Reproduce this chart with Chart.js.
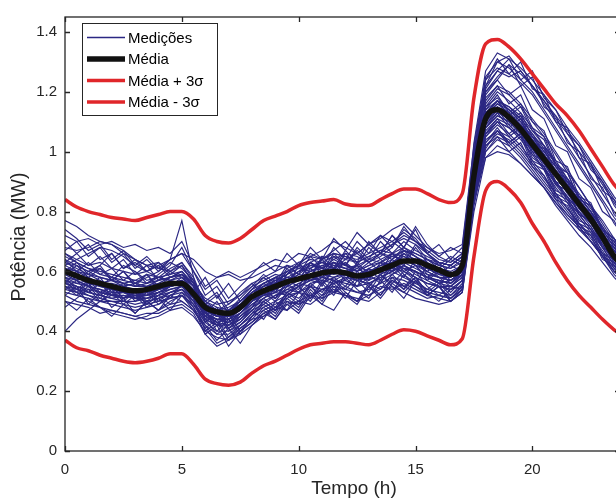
<!DOCTYPE html>
<html lang="pt">
<head>
  <meta charset="UTF-8">
  <title>Potência - Medições</title>
  <script src="https://cdn.jsdelivr.net/npm/chart.js"></script>
  <style>
    html, body { margin: 0; padding: 0; background: #fff; overflow: hidden; }
    #wrap { width: 616px; height: 503px; overflow: hidden; position: relative; }
    canvas { position: absolute; left: 0; top: 0; }
  </style>
</head>
<body>
<div id="wrap"><canvas id="chart" width="640" height="520"></canvas></div>

<script>
  // tempo (h), passo de 30 min
  const hours = [0,0.5,1,1.5,2,2.5,3,3.5,4,4.5,5,5.5,6,6.5,7,7.5,8,8.5,9,9.5,10,10.5,11,11.5,12,
    12.5,13,13.5,14,14.5,15,15.5,16,16.5,17,17.5,18,18.5,19,19.5,20,20.5,21,21.5,22,22.5,23,23.5,24];

  const xTicks = [0, 5, 10, 15, 20];
  const yTicks = [0, 0.2, 0.4, 0.6, 0.8, 1, 1.2, 1.4];

  const media = [0.60,0.585,0.57,0.56,0.55,0.54,0.535,0.54,0.55,0.56,0.56,
    0.525,0.48,0.465,0.46,0.48,
    0.515,0.535,0.55,0.565,0.575,0.585,0.595,0.60,0.595,0.585,0.59,0.605,0.62,0.635,0.635,0.62,0.605,0.59,0.62,
    0.92,1.11,1.14,1.115,1.075,1.025,0.975,0.925,0.875,0.825,0.775,0.715,0.65,0.61];

  const mediaMais = [0.84,0.815,0.80,0.79,0.78,0.775,0.77,0.78,0.79,0.80,0.80,
    0.775,0.72,0.70,0.695,0.71,
    0.74,0.77,0.785,0.80,0.82,0.83,0.835,0.84,0.825,0.82,0.82,0.84,0.86,0.875,0.875,0.86,0.84,0.83,0.86,
    1.18,1.36,1.375,1.35,1.31,1.26,1.21,1.16,1.12,1.07,1.01,0.95,0.89,0.85];

  const mediaMenos = [0.37,0.345,0.335,0.32,0.31,0.30,0.295,0.30,0.31,0.325,0.325,
    0.29,0.24,0.225,0.22,0.23,
    0.26,0.285,0.30,0.32,0.34,0.355,0.36,0.365,0.365,0.36,0.355,0.37,0.39,0.405,0.40,0.385,0.37,0.355,0.375,
    0.65,0.87,0.90,0.875,0.83,0.76,0.70,0.63,0.57,0.52,0.48,0.44,0.405,0.38];

  const medicoes = [
    [0.77,0.75,0.72,0.70,0.69,0.66,0.64,0.62,0.63,0.60,0.62, 0.56,0.50,0.47,0.48,0.50,
     0.53,0.55,0.58,0.57,0.60,0.63,0.61,0.64,0.62,0.60,0.63,0.66,0.64,0.68,0.65,0.63,0.61,0.60,0.62,
     0.95,1.15,1.18,1.14,1.10,1.04,0.99,0.93,0.88,0.83,0.78,0.72,0.66,0.62],
    [0.40,0.44,0.47,0.50,0.52,0.51,0.53,0.52,0.54,0.55,0.57, 0.52,0.45,0.43,0.44,0.47,
     0.50,0.52,0.51,0.54,0.56,0.55,0.58,0.57,0.56,0.55,0.58,0.60,0.59,0.62,0.60,0.58,0.56,0.57,0.59,
     0.88,1.06,1.10,1.08,1.05,1.00,0.94,0.90,0.85,0.80,0.76,0.70,0.64,0.60],
    [0.72,0.70,0.71,0.69,0.70,0.68,0.69,0.67,0.68,0.66,0.70, 0.62,0.55,0.58,0.60,0.58,
     0.60,0.62,0.64,0.63,0.66,0.65,0.67,0.70,0.68,0.66,0.69,0.72,0.70,0.73,0.70,0.68,0.66,0.67,0.69,
     1.02,1.25,1.30,1.28,1.24,1.20,1.14,1.08,1.02,0.96,0.90,0.84,0.78,0.73],
    [0.58,0.57,0.58,0.56,0.57,0.55,0.56,0.58,0.60,0.64,0.77, 0.58,0.46,0.44,0.43,0.46,
     0.49,0.51,0.54,0.53,0.56,0.58,0.57,0.60,0.59,0.57,0.59,0.62,0.63,0.61,0.60,0.58,0.57,0.56,0.60,
     0.90,1.08,1.12,1.10,1.06,1.01,0.96,0.90,0.84,0.79,0.74,0.69,0.63,0.59],
    [0.52,0.50,0.49,0.48,0.47,0.46,0.45,0.44,0.45,0.47,0.48, 0.45,0.40,0.38,0.37,0.40,
     0.43,0.46,0.48,0.47,0.50,0.52,0.51,0.53,0.52,0.50,0.52,0.55,0.54,0.56,0.54,0.52,0.51,0.50,0.53,
     0.80,0.98,1.02,1.00,0.96,0.92,0.88,0.83,0.78,0.74,0.70,0.65,0.60,0.56],
    [0.63,0.62,0.60,0.61,0.58,0.57,0.56,0.55,0.57,0.58,0.59, 0.55,0.48,0.46,0.45,0.48,
     0.52,0.55,0.56,0.58,0.57,0.60,0.62,0.61,0.63,0.60,0.62,0.64,0.66,0.65,0.63,0.64,0.62,0.61,0.64,
     0.98,1.22,1.30,1.32,1.27,1.22,1.17,1.11,1.06,1.00,0.95,0.89,0.83,0.77],
    [0.56,0.55,0.53,0.52,0.51,0.50,0.49,0.50,0.51,0.52,0.53, 0.50,0.44,0.42,0.41,0.43,
     0.47,0.49,0.52,0.54,0.53,0.56,0.57,0.56,0.58,0.57,0.56,0.58,0.60,0.62,0.59,0.57,0.55,0.54,0.57,
     0.86,1.05,1.09,1.06,1.02,0.97,0.92,0.86,0.81,0.76,0.71,0.66,0.60,0.57],
    [0.62,0.64,0.66,0.68,0.67,0.65,0.62,0.60,0.58,0.57,0.56, 0.53,0.47,0.45,0.47,0.50,
     0.54,0.56,0.58,0.60,0.62,0.61,0.64,0.66,0.65,0.63,0.65,0.67,0.69,0.72,0.70,0.67,0.64,0.63,0.66,
     0.96,1.15,1.20,1.17,1.13,1.08,1.02,0.97,0.91,0.85,0.80,0.74,0.68,0.64],
    [0.55,0.53,0.50,0.48,0.46,0.45,0.44,0.45,0.47,0.49,0.50, 0.47,0.41,0.36,0.38,0.41,
     0.44,0.45,0.48,0.50,0.49,0.51,0.54,0.53,0.55,0.53,0.52,0.54,0.57,0.55,0.53,0.51,0.52,0.51,0.54,
     0.84,1.02,1.06,1.04,1.00,0.95,0.90,0.85,0.80,0.75,0.70,0.65,0.59,0.55],
    [0.66,0.64,0.62,0.63,0.61,0.60,0.59,0.60,0.62,0.64,0.66, 0.64,0.60,0.58,0.59,0.57,
     0.58,0.60,0.62,0.61,0.63,0.65,0.64,0.66,0.65,0.64,0.66,0.68,0.70,0.67,0.66,0.64,0.63,0.62,0.65,
     0.97,1.18,1.22,1.20,1.16,1.11,1.06,1.00,0.94,0.88,0.82,0.76,0.70,0.65],
    [0.60,0.58,0.56,0.55,0.54,0.53,0.53,0.54,0.55,0.56,0.55, 0.52,0.47,0.45,0.44,0.46,
     0.50,0.53,0.55,0.57,0.59,0.58,0.60,0.62,0.61,0.59,0.58,0.60,0.63,0.66,0.64,0.61,0.59,0.58,0.61,
     0.92,1.10,1.14,1.12,1.09,1.04,0.98,0.93,0.88,0.83,0.77,0.71,0.65,0.61],
    [0.57,0.56,0.55,0.54,0.52,0.53,0.51,0.52,0.54,0.55,0.56, 0.53,0.46,0.43,0.42,0.45,
     0.49,0.52,0.54,0.56,0.58,0.57,0.59,0.61,0.60,0.62,0.60,0.62,0.64,0.67,0.65,0.62,0.60,0.59,0.62,
     1.00,1.24,1.28,1.26,1.23,1.19,1.13,1.07,1.01,0.95,0.89,0.83,0.76,0.71],
    [0.53,0.52,0.51,0.50,0.50,0.49,0.48,0.49,0.50,0.51,0.52, 0.49,0.43,0.40,0.40,0.42,
     0.46,0.48,0.50,0.52,0.53,0.55,0.54,0.56,0.57,0.55,0.56,0.58,0.60,0.58,0.56,0.54,0.53,0.52,0.55,
     0.85,1.04,1.07,1.05,1.01,0.96,0.91,0.86,0.81,0.76,0.72,0.67,0.61,0.57],
    [0.68,0.67,0.68,0.70,0.69,0.67,0.64,0.62,0.61,0.60,0.58, 0.54,0.49,0.47,0.46,0.49,
     0.53,0.55,0.57,0.56,0.59,0.62,0.63,0.61,0.64,0.66,0.63,0.65,0.68,0.74,0.71,0.66,0.63,0.62,0.65,
     0.95,1.13,1.17,1.15,1.12,1.07,1.02,0.96,0.91,0.86,0.81,0.75,0.69,0.65],
    [0.59,0.57,0.55,0.53,0.52,0.52,0.51,0.51,0.52,0.54,0.55, 0.51,0.45,0.44,0.45,0.47,
     0.51,0.54,0.55,0.57,0.58,0.60,0.61,0.60,0.59,0.58,0.60,0.61,0.60,0.63,0.61,0.59,0.58,0.57,0.60,
     0.90,1.09,1.13,1.11,1.07,1.02,0.97,0.92,0.86,0.81,0.76,0.70,0.64,0.60],
    [0.61,0.60,0.58,0.56,0.55,0.54,0.54,0.53,0.54,0.56,0.57, 0.54,0.48,0.46,0.45,0.47,
     0.52,0.54,0.57,0.59,0.61,0.60,0.62,0.63,0.61,0.60,0.62,0.63,0.65,0.64,0.62,0.61,0.59,0.58,0.62,
     0.98,1.20,1.25,1.29,1.26,1.22,1.17,1.12,1.07,1.02,0.96,0.90,0.84,0.79],
    [0.58,0.56,0.57,0.55,0.58,0.62,0.60,0.57,0.58,0.61,0.63, 0.57,0.44,0.39,0.42,0.44,
     0.48,0.53,0.50,0.55,0.54,0.59,0.56,0.60,0.63,0.58,0.61,0.59,0.64,0.60,0.62,0.57,0.60,0.56,0.59,
     0.89,1.07,1.11,1.09,1.05,1.01,0.95,0.89,0.84,0.79,0.74,0.68,0.62,0.58],
    [0.64,0.62,0.60,0.58,0.57,0.56,0.57,0.59,0.58,0.57,0.58, 0.55,0.49,0.47,0.49,0.52,
     0.55,0.57,0.59,0.58,0.60,0.62,0.61,0.63,0.62,0.61,0.64,0.63,0.66,0.68,0.66,0.64,0.62,0.61,0.63,
     0.94,1.14,1.17,1.15,1.11,1.06,1.00,0.95,0.89,0.84,0.79,0.73,0.67,0.63],
    [0.50,0.49,0.48,0.46,0.47,0.46,0.45,0.46,0.46,0.48,0.49, 0.46,0.39,0.35,0.37,0.39,
     0.42,0.45,0.47,0.49,0.50,0.49,0.52,0.54,0.52,0.51,0.50,0.53,0.55,0.53,0.51,0.50,0.49,0.50,0.53,
     0.82,1.00,1.04,1.02,0.98,0.93,0.88,0.82,0.77,0.72,0.68,0.63,0.58,0.54],
    [0.62,0.60,0.59,0.57,0.55,0.53,0.52,0.51,0.53,0.55,0.56, 0.52,0.46,0.44,0.43,0.46,
     0.50,0.52,0.53,0.55,0.57,0.59,0.58,0.57,0.59,0.61,0.59,0.60,0.62,0.61,0.60,0.58,0.57,0.56,0.59,
     0.91,1.11,1.15,1.13,1.09,1.05,0.99,0.94,0.89,0.84,0.79,0.73,0.67,0.62],
    [0.65,0.63,0.61,0.60,0.59,0.58,0.57,0.56,0.57,0.58,0.59, 0.55,0.49,0.47,0.46,0.49,
     0.53,0.56,0.58,0.60,0.62,0.64,0.63,0.65,0.64,0.63,0.65,0.67,0.66,0.70,0.67,0.65,0.63,0.62,0.65,
     1.03,1.27,1.33,1.31,1.28,1.24,1.19,1.14,1.08,1.03,0.97,0.91,0.85,0.80],
    [0.55,0.54,0.52,0.51,0.50,0.50,0.50,0.51,0.52,0.53,0.54, 0.50,0.44,0.42,0.43,0.45,
     0.48,0.50,0.52,0.53,0.55,0.57,0.56,0.58,0.59,0.57,0.58,0.57,0.59,0.61,0.58,0.56,0.55,0.54,0.57,
     0.87,1.06,1.10,1.08,1.04,0.99,0.94,0.88,0.83,0.78,0.73,0.68,0.62,0.58],
    [0.57,0.55,0.54,0.53,0.52,0.51,0.52,0.53,0.55,0.56,0.57, 0.53,0.47,0.45,0.46,0.48,
     0.51,0.55,0.57,0.59,0.62,0.66,0.64,0.67,0.70,0.66,0.69,0.71,0.74,0.76,0.72,0.68,0.65,0.63,0.66,
     0.95,1.13,1.17,1.14,1.10,1.05,1.00,0.95,0.90,0.85,0.80,0.75,0.69,0.64],
    [0.61,0.59,0.57,0.56,0.56,0.55,0.54,0.53,0.54,0.55,0.56, 0.53,0.48,0.46,0.47,0.49,
     0.52,0.54,0.56,0.58,0.57,0.59,0.60,0.59,0.60,0.59,0.61,0.63,0.62,0.64,0.62,0.60,0.58,0.57,0.60,
     0.92,1.12,1.16,1.13,1.09,1.04,0.99,0.93,0.87,0.82,0.77,0.71,0.65,0.61],
    [0.59,0.57,0.55,0.54,0.53,0.53,0.52,0.52,0.53,0.55,0.56, 0.52,0.46,0.44,0.44,0.46,
     0.50,0.53,0.55,0.57,0.58,0.57,0.59,0.60,0.59,0.58,0.60,0.62,0.63,0.65,0.63,0.60,0.58,0.58,0.61,
     0.99,1.21,1.27,1.25,1.27,1.22,1.16,1.10,1.04,0.98,0.92,0.86,0.80,0.74],
    [0.54,0.53,0.52,0.50,0.49,0.48,0.47,0.48,0.49,0.51,0.52, 0.48,0.42,0.39,0.39,0.42,
     0.45,0.47,0.49,0.51,0.53,0.52,0.54,0.55,0.54,0.53,0.54,0.56,0.58,0.57,0.55,0.53,0.52,0.51,0.54,
     0.84,1.02,1.05,1.03,0.99,0.94,0.89,0.84,0.79,0.75,0.70,0.65,0.60,0.56],
    [0.60,0.58,0.57,0.55,0.54,0.54,0.53,0.52,0.53,0.54,0.55, 0.52,0.47,0.45,0.45,0.47,
     0.51,0.53,0.54,0.56,0.58,0.57,0.59,0.58,0.60,0.58,0.57,0.59,0.61,0.60,0.58,0.56,0.55,0.55,0.58,
     0.84,0.98,1.00,0.99,0.96,0.92,0.88,0.83,0.79,0.75,0.70,0.66,0.61,0.57],
    [0.63,0.61,0.59,0.58,0.57,0.56,0.55,0.55,0.56,0.58,0.59, 0.56,0.50,0.48,0.47,0.50,
     0.53,0.56,0.58,0.57,0.60,0.61,0.63,0.62,0.61,0.62,0.64,0.66,0.65,0.67,0.65,0.62,0.60,0.59,0.62,
     0.93,1.12,1.16,1.14,1.11,1.06,1.01,0.96,0.90,0.85,0.80,0.74,0.68,0.64],
    [0.56,0.54,0.53,0.52,0.51,0.52,0.51,0.50,0.51,0.53,0.54, 0.51,0.45,0.42,0.42,0.44,
     0.48,0.51,0.53,0.52,0.55,0.57,0.58,0.60,0.59,0.57,0.59,0.61,0.60,0.62,0.60,0.58,0.56,0.55,0.58,
     0.89,1.08,1.12,1.10,1.06,1.01,0.96,0.90,0.85,0.80,0.75,0.69,0.63,0.59],
    [0.66,0.63,0.61,0.59,0.58,0.56,0.55,0.56,0.58,0.59,0.60, 0.56,0.51,0.49,0.50,0.52,
     0.56,0.58,0.60,0.62,0.61,0.63,0.65,0.64,0.66,0.65,0.63,0.66,0.69,0.71,0.69,0.66,0.63,0.62,0.65,
     0.96,1.16,1.21,1.19,1.15,1.10,1.05,0.99,0.93,0.88,0.82,0.77,0.71,0.66],
    [0.70,0.66,0.69,0.64,0.66,0.61,0.63,0.60,0.62,0.58,0.60, 0.55,0.43,0.47,0.41,0.45,
     0.48,0.54,0.51,0.57,0.55,0.61,0.58,0.63,0.59,0.62,0.57,0.63,0.60,0.66,0.62,0.58,0.61,0.57,0.60,
     0.93,1.17,1.22,1.16,1.19,1.10,1.07,0.97,0.95,0.85,0.83,0.74,0.71,0.64],
    [0.56,0.60,0.55,0.58,0.53,0.56,0.51,0.54,0.50,0.53,0.55, 0.50,0.47,0.40,0.44,0.39,
     0.45,0.50,0.47,0.53,0.50,0.56,0.53,0.58,0.55,0.60,0.56,0.54,0.59,0.55,0.58,0.53,0.56,0.52,0.56,
     0.88,1.08,1.13,1.08,1.11,1.02,0.99,0.90,0.88,0.79,0.77,0.68,0.66,0.59],
    [0.64,0.60,0.63,0.59,0.61,0.57,0.60,0.56,0.59,0.62,0.68, 0.60,0.52,0.55,0.49,0.53,
     0.56,0.52,0.58,0.55,0.62,0.58,0.65,0.61,0.67,0.63,0.70,0.66,0.72,0.68,0.74,0.66,0.62,0.65,0.63,
     0.96,1.20,1.24,1.29,1.22,1.25,1.15,1.12,1.03,1.00,0.91,0.88,0.79,0.75],
    [0.52,0.55,0.49,0.53,0.48,0.51,0.46,0.50,0.47,0.52,0.50, 0.47,0.42,0.37,0.41,0.36,
     0.42,0.46,0.44,0.49,0.46,0.52,0.49,0.47,0.53,0.50,0.55,0.51,0.56,0.53,0.57,0.52,0.55,0.50,0.54,
     0.85,1.01,1.07,1.02,1.05,0.96,0.94,0.85,0.83,0.75,0.73,0.65,0.63,0.56],
    [0.61,0.57,0.60,0.62,0.57,0.60,0.55,0.59,0.54,0.57,0.59, 0.53,0.58,0.51,0.56,0.50,
     0.54,0.58,0.55,0.61,0.57,0.63,0.59,0.65,0.62,0.67,0.63,0.60,0.66,0.62,0.68,0.63,0.59,0.62,0.60,
     0.92,1.14,1.19,1.13,1.16,1.08,1.05,0.96,0.93,0.84,0.82,0.73,0.70,0.63],
    [0.48,0.51,0.54,0.50,0.53,0.49,0.52,0.48,0.51,0.47,0.52, 0.49,0.44,0.47,0.41,0.44,
     0.47,0.51,0.48,0.53,0.51,0.55,0.52,0.57,0.54,0.58,0.55,0.59,0.56,0.60,0.57,0.54,0.57,0.53,0.57,
     0.87,1.05,1.10,1.05,1.08,0.99,0.97,0.89,0.87,0.79,0.77,0.70,0.67,0.61],
    [0.67,0.70,0.65,0.68,0.63,0.66,0.61,0.64,0.60,0.63,0.61, 0.57,0.50,0.53,0.47,0.51,
     0.55,0.59,0.56,0.62,0.59,0.65,0.61,0.68,0.64,0.70,0.66,0.72,0.68,0.75,0.70,0.66,0.69,0.64,0.68,
     1.00,1.24,1.31,1.26,1.30,1.21,1.19,1.10,1.08,0.98,0.96,0.87,0.84,0.76],
    [0.58,0.54,0.57,0.53,0.55,0.51,0.54,0.50,0.53,0.51,0.56, 0.51,0.40,0.43,0.37,0.41,
     0.44,0.48,0.45,0.51,0.48,0.54,0.50,0.56,0.52,0.49,0.55,0.52,0.57,0.54,0.58,0.53,0.50,0.54,0.55,
     0.86,1.03,1.08,1.03,1.06,0.97,0.95,0.86,0.84,0.76,0.74,0.66,0.64,0.57],
    [0.60,0.63,0.59,0.62,0.66,0.61,0.64,0.60,0.63,0.59,0.62, 0.56,0.46,0.50,0.44,0.48,
     0.52,0.56,0.53,0.59,0.63,0.58,0.64,0.60,0.66,0.62,0.68,0.64,0.61,0.67,0.63,0.60,0.63,0.59,0.62,
     0.94,1.12,1.17,1.12,1.15,1.07,1.04,0.95,0.93,0.84,0.82,0.74,0.71,0.64],
    [0.54,0.57,0.53,0.56,0.52,0.55,0.50,0.53,0.49,0.52,0.54, 0.49,0.43,0.46,0.40,0.43,
     0.47,0.44,0.50,0.47,0.53,0.50,0.56,0.52,0.58,0.54,0.51,0.57,0.53,0.59,0.55,0.52,0.55,0.51,0.55,
     0.87,1.06,1.11,1.06,1.09,1.00,0.98,0.89,0.87,0.79,0.77,0.69,0.66,0.60],
    [0.63,0.66,0.62,0.65,0.61,0.64,0.59,0.62,0.57,0.60,0.63, 0.58,0.49,0.52,0.46,0.50,
     0.54,0.58,0.55,0.60,0.57,0.63,0.60,0.66,0.62,0.68,0.64,0.70,0.66,0.63,0.69,0.64,0.61,0.64,0.62,
     0.98,1.22,1.27,1.31,1.24,1.27,1.18,1.14,1.06,1.02,0.94,0.90,0.82,0.77],
    [0.57,0.53,0.56,0.52,0.55,0.51,0.53,0.49,0.52,0.55,0.58, 0.53,0.45,0.48,0.42,0.46,
     0.50,0.54,0.51,0.56,0.53,0.59,0.55,0.61,0.57,0.63,0.59,0.56,0.62,0.58,0.64,0.59,0.56,0.59,0.58,
     0.90,1.10,1.15,1.10,1.13,1.05,1.02,0.93,0.91,0.82,0.80,0.72,0.69,0.62],
    [0.50,0.47,0.51,0.48,0.45,0.49,0.46,0.50,0.47,0.50,0.52, 0.47,0.41,0.44,0.38,0.42,
     0.46,0.50,0.47,0.52,0.49,0.55,0.51,0.57,0.53,0.50,0.56,0.52,0.58,0.54,0.60,0.55,0.52,0.55,0.54,
     0.85,1.03,1.07,1.03,1.06,0.98,0.95,0.87,0.85,0.77,0.75,0.68,0.65,0.58],
    [0.74,0.71,0.67,0.69,0.64,0.67,0.62,0.65,0.61,0.64,0.66, 0.60,0.54,0.57,0.51,0.55,
     0.59,0.63,0.60,0.66,0.62,0.68,0.64,0.71,0.67,0.73,0.69,0.66,0.72,0.68,0.75,0.69,0.65,0.68,0.66,
     0.99,1.19,1.24,1.19,1.22,1.14,1.11,1.02,1.00,0.91,0.88,0.80,0.77,0.69],
    [0.59,0.62,0.58,0.61,0.57,0.60,0.56,0.59,0.55,0.58,0.60, 0.55,0.47,0.42,0.46,0.40,
     0.45,0.49,0.46,0.52,0.55,0.51,0.57,0.53,0.59,0.55,0.61,0.57,0.63,0.59,0.56,0.62,0.58,0.55,0.59,
     0.91,1.09,1.14,1.09,1.12,1.03,1.01,0.92,0.90,0.81,0.79,0.71,0.68,0.61],
    [0.55,0.52,0.55,0.51,0.54,0.50,0.53,0.49,0.52,0.49,0.53, 0.48,0.39,0.42,0.35,0.40,
     0.43,0.47,0.44,0.50,0.47,0.53,0.49,0.55,0.51,0.57,0.53,0.59,0.55,0.51,0.57,0.52,0.55,0.50,0.53,
     0.83,1.00,1.05,1.00,1.03,0.95,0.92,0.84,0.82,0.74,0.72,0.64,0.62,0.55]
  ];

  const AZUL = '#2b2783';
  const VERMELHO = '#e0262a';
  const PRETO = '#111111';
  const TEXTO = '#262626';
  const FONTE = '"Liberation Sans", Arial, sans-serif';

  const pts = arr => arr.map((v, i) => ({ x: hours[i], y: v }));

  // Média desenhada por cima (índice 0), depois os limites, depois as medições
  const datasets = [
    { label: 'Média', data: pts(media), borderColor: PRETO, borderWidth: 5.5, cubicInterpolationMode: 'monotone' },
    { label: 'Média + 3σ', data: pts(mediaMais), borderColor: VERMELHO, borderWidth: 3.5, cubicInterpolationMode: 'monotone' },
    { label: 'Média - 3σ', data: pts(mediaMenos), borderColor: VERMELHO, borderWidth: 3.5, cubicInterpolationMode: 'monotone' }
  ];
  medicoes.forEach(s => datasets.push({ label: 'Medições', data: pts(s), borderColor: AZUL, borderWidth: 1.15 }));

  const legendItems = [
    { text: 'Medições', color: AZUL, width: 1.5 },
    { text: 'Média', color: PRETO, width: 5.5 },
    { text: 'Média + 3σ', color: VERMELHO, width: 3.5 },
    { text: 'Média - 3σ', color: VERMELHO, width: 3.5 }
  ];

  // caixa dos eixos com marcas para dentro (estilo MATLAB), títulos dos eixos e legenda
  const boxPlugin = {
    id: 'box',
    afterDraw(chart) {
      const { ctx, chartArea: { left, right, top, bottom }, scales: { x, y } } = chart;
      ctx.save();
      ctx.strokeStyle = TEXTO;
      ctx.lineWidth = 1.3;
      ctx.strokeRect(left, top, right - left, bottom - top);
      ctx.beginPath();
      xTicks.forEach(v => {
        const px = Math.round(x.getPixelForValue(v)) + 0.5;
        ctx.moveTo(px, bottom); ctx.lineTo(px, bottom - 5);
        ctx.moveTo(px, top); ctx.lineTo(px, top + 5);
      });
      yTicks.forEach(v => {
        const py = Math.round(y.getPixelForValue(v)) + 0.5;
        ctx.moveTo(left, py); ctx.lineTo(left + 5, py);
        ctx.moveTo(right, py); ctx.lineTo(right - 5, py);
      });
      ctx.stroke();

      // títulos dos eixos
      ctx.fillStyle = TEXTO;
      ctx.font = '19px ' + FONTE;
      ctx.textAlign = 'center';
      ctx.textBaseline = 'alphabetic';
      ctx.fillText('Tempo (h)', 354, 494);
      ctx.save();
      ctx.translate(25, 237);
      ctx.rotate(-Math.PI / 2);
      ctx.font = '19.5px ' + FONTE;
      ctx.fillText('Potência (MW)', 0, 0);
      ctx.restore();

      // legenda
      const bx = 82.5, by = 23.5, bw = 135, bh = 92;
      ctx.fillStyle = '#fff';
      ctx.fillRect(bx, by, bw, bh);
      ctx.strokeStyle = TEXTO;
      ctx.lineWidth = 1;
      ctx.strokeRect(bx, by, bw, bh);
      ctx.font = '15px ' + FONTE;
      ctx.textAlign = 'left';
      ctx.textBaseline = 'middle';
      ctx.fillStyle = '#000';
      legendItems.forEach((it, i) => {
        const ly = 37.5 + i * 21.5;
        ctx.beginPath();
        ctx.strokeStyle = it.color;
        ctx.lineWidth = it.width;
        ctx.moveTo(87, ly); ctx.lineTo(125, ly);
        ctx.stroke();
        ctx.fillText(it.text, 128, ly + 1);
      });
      ctx.restore();
    }
  };

  new Chart(document.getElementById('chart'), {
    type: 'line',
    data: { datasets },
    options: {
      responsive: false,
      animation: false,
      devicePixelRatio: 1,
      layout: { padding: { top: 11, right: 20, left: 0, bottom: 0 } },
      elements: { point: { radius: 0 }, line: { tension: 0, fill: false } },
      plugins: { legend: { display: false }, tooltip: { enabled: false } },
      scales: {
        x: {
          type: 'linear', min: 0, max: 23.75,
          grid: { display: false, drawTicks: false }, border: { display: false },
          afterBuildTicks: s => { s.ticks = xTicks.map(v => ({ value: v })); },
          afterFit: s => { s.height = 69; },
          ticks: { color: TEXTO, font: { size: 15, family: FONTE }, padding: 10, maxRotation: 0 }
        },
        y: {
          min: 0, max: 1.45,
          grid: { display: false, drawTicks: false }, border: { display: false },
          afterBuildTicks: s => { s.ticks = yTicks.map(v => ({ value: v })); },
          afterFit: s => { s.width = 65; },
          ticks: { color: TEXTO, font: { size: 15, family: FONTE }, padding: 8, callback: v => String(v) }
        }
      }
    },
    plugins: [boxPlugin]
  });
</script>
</body>
</html>
